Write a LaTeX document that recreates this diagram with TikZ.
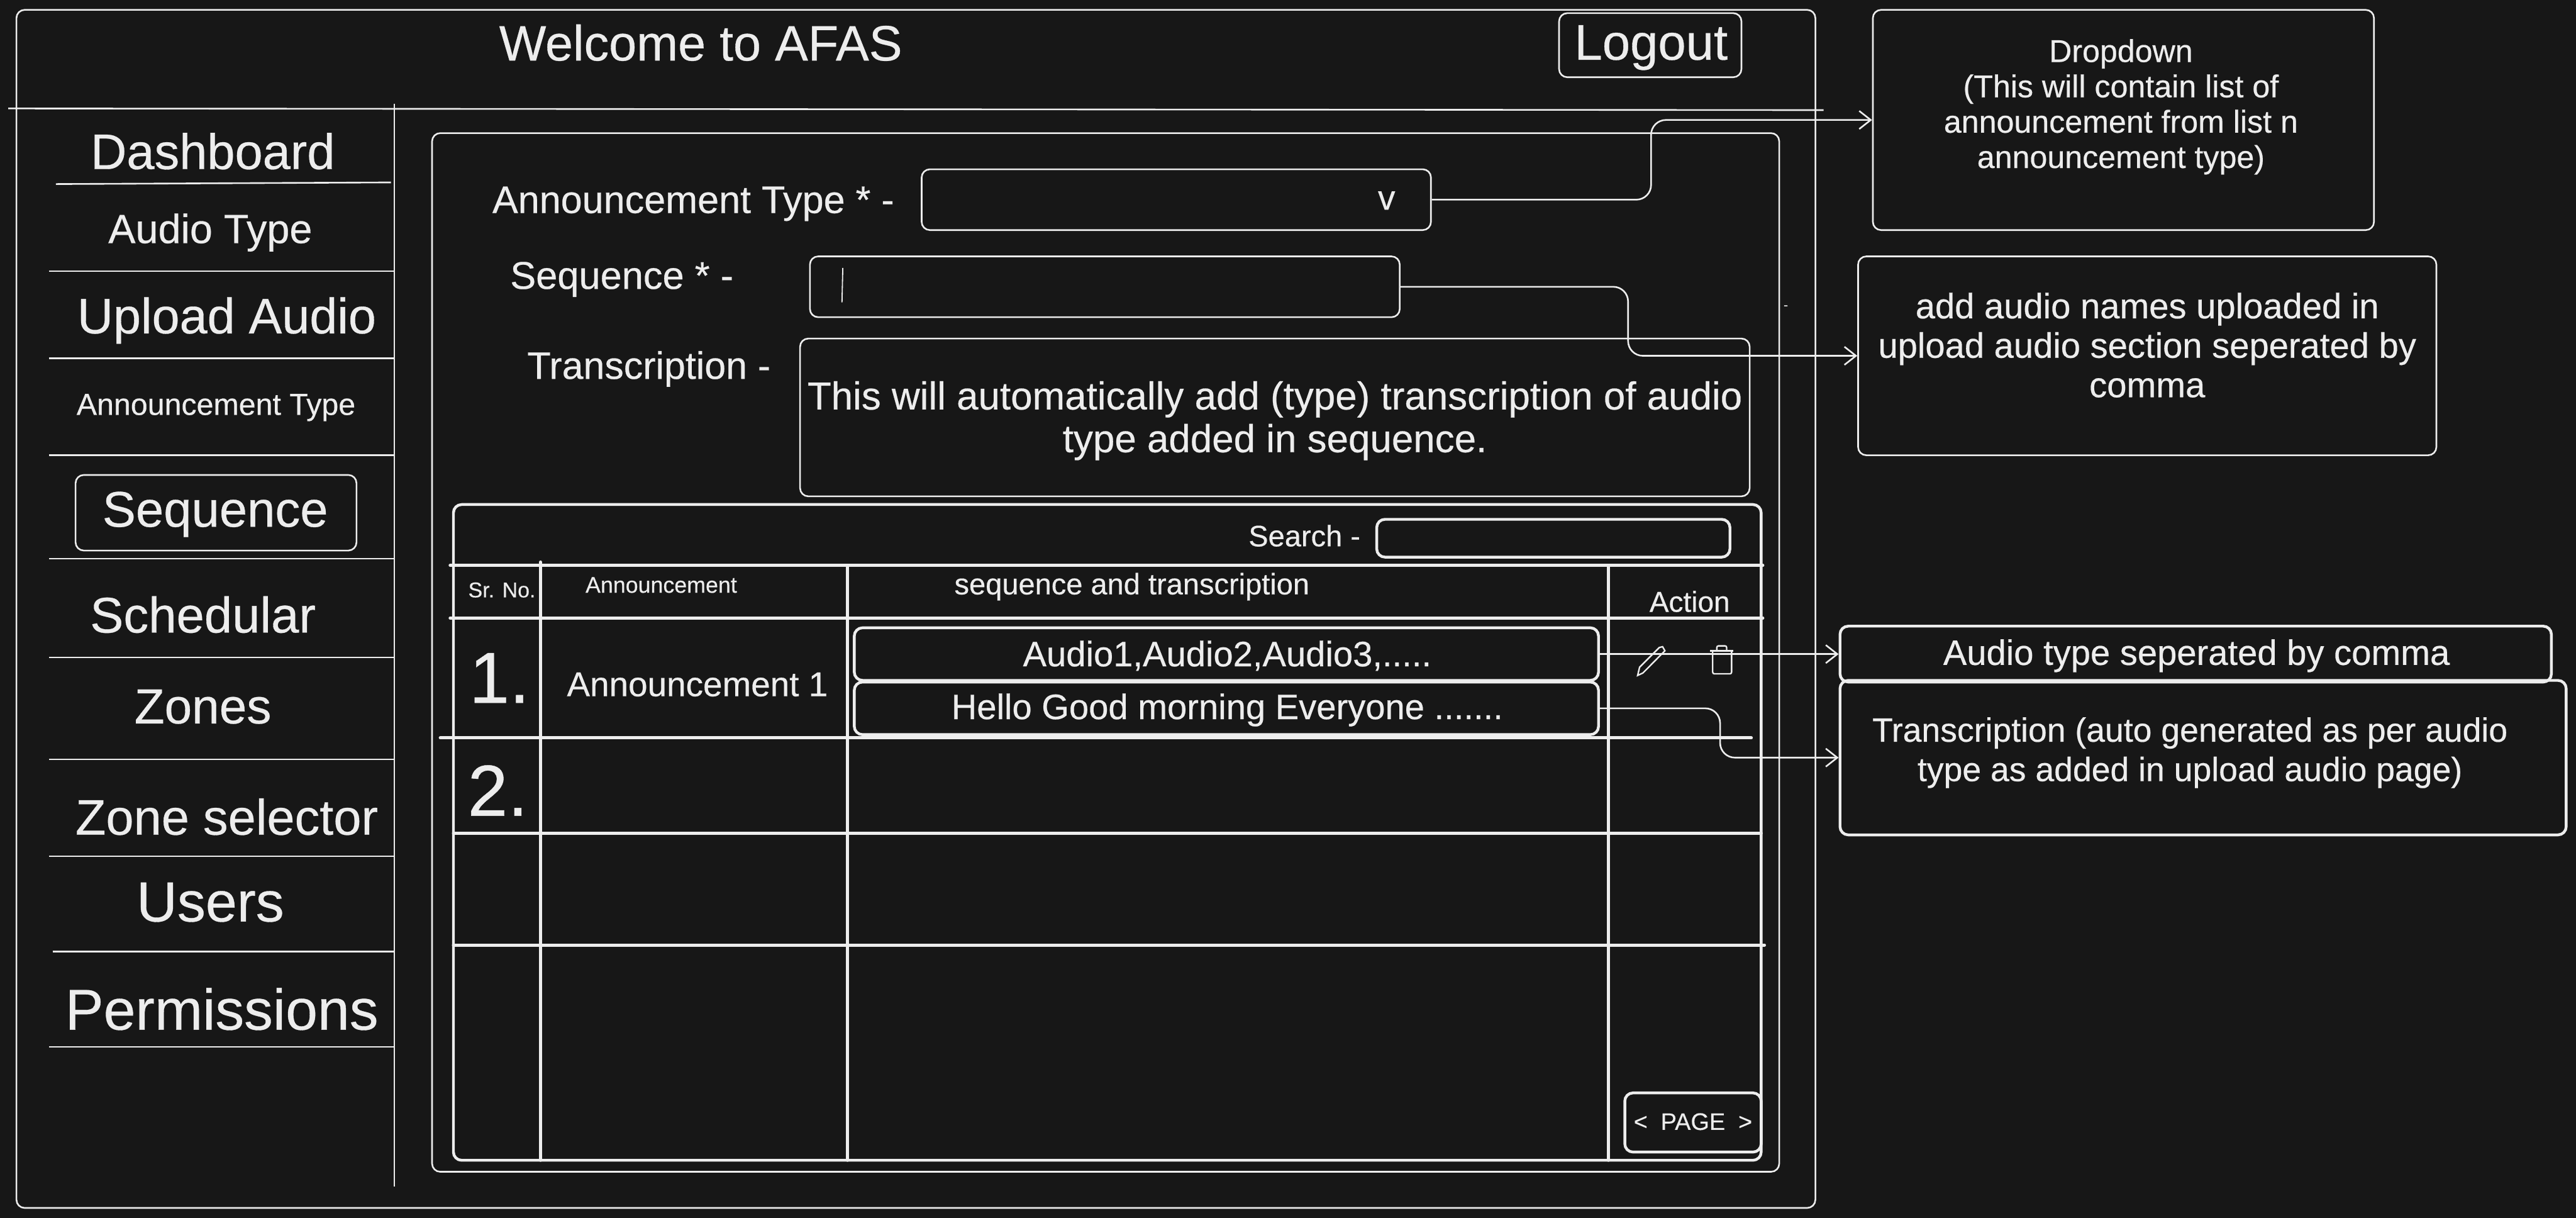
\documentclass[tikz,border=0pt]{standalone}
\usepackage{fontspec}
\usepackage{xcolor}
\setmainfont{Liberation Sans}[RawFeature={embolden=0.4}]
\usetikzlibrary{arrows.meta, positioning, calc}
\definecolor{bgdark}{HTML}{171717}
\definecolor{ink}{HTML}{EDEDED}

\begin{document}
\begin{tikzpicture}[x=1pt, y=-1pt, >={Straight Barb[length=7pt,width=11pt]},
    txt/.style n args={2}{text=ink, inner sep=0pt, align=center, font=\fontsize{#1}{#2}\selectfont},
    box/.style={draw=ink, line width=1pt, rounded corners=5pt, inner sep=0pt},
    tbox/.style={draw=ink, line width=1.7pt, rounded corners=5pt, inner sep=0pt},
    rule/.style={draw=ink, line width=1pt},
    grid/.style={draw=ink, line width=1.9pt, line cap=round},
    link/.style={draw=ink, line width=1pt, rounded corners=9pt, ->}]
  \fill[bgdark] (0,0) rectangle (1568,741);
  \useasboundingbox (0,0) rectangle (1568,741);
  % page frame
  \node[box, minimum width=1095pt, minimum height=729pt] (frame) at (557.5,370.5) {};
  \draw[rule] (5,66) -- (1110,67);
  \draw[rule] (240,63) -- (240,722);
  \node[txt={30.3}{36}] (welcome) at (426.5,26) {Welcome to AFAS};
  \node[box, minimum width=111pt, minimum height=39pt] (logout) at (1004.5,27.5) {};
  \node[txt={30.5}{36}] (logouttext) at (1005,29) {Logout};
  % sidebar
  \node[txt={30.4}{36}] (dashboard) at (129.5,92) {Dashboard};
  \node[txt={24.8}{28}] (audiotype) at (128,141.5) {Audio Type};
  \node[txt={30.3}{36}] (upload) at (138,195) {Upload Audio};
  \node[txt={18.5}{22}] (anntype) at (131.5,248) {Announcement Type};
  \node[box, minimum width=171pt, minimum height=46pt] (sequence) at (131.5,312) {};
  \node[txt={30.5}{36}] (seqlabel) at (131,313) {Sequence};
  \node[txt={30.5}{36}] (schedular) at (123.5,374) {Schedular};
  \node[txt={30}{36}] (zones) at (123.5,430) {Zones};
  \node[txt={30.4}{36}] (zonesel) at (138,497) {Zone selector};
  \node[txt={34.4}{40}] (users) at (128,549) {Users};
  \node[txt={35}{40}] (permissions) at (135,614) {Permissions};
  \draw[rule] (34,112) -- (238,111);
  \draw[rule] (30,165) -- (240,165);
  \draw[rule] (30,218) -- (240,218);
  \draw[rule] (30,277) -- (240,277);
  \draw[rule] (30,340) -- (240,340);
  \draw[rule] (30,400) -- (240,400);
  \draw[rule] (30,462) -- (240,462);
  \draw[rule] (30,521) -- (240,521);
  \draw[rule] (32,579) -- (240,579);
  \draw[rule] (30,637) -- (240,637);
  % form
  \node[box, minimum width=820pt, minimum height=632pt] (panel) at (673,397) {};
  \node[txt={23.4}{28}] (typelabel) at (422,124) {Announcement Type * -};
  \node[txt={23.5}{28}] (seqfieldlabel) at (378.5,170) {Sequence * -};
  \node[txt={23.3}{28}] (translabel) at (395,224.5) {Transcription -};
  \node[box, minimum width=310pt, minimum height=37pt] (typefield) at (716,121.5) {};
  \node[txt={21}{22}] (chevron) at (844,122) {v};
  \node[box, minimum width=359pt, minimum height=37pt] (seqfield) at (672.5,174.5) {};
  \draw[rule, line width=0.7pt] (513,163) -- (512.5,184);
  \node[box, minimum width=578pt, minimum height=96pt] (transfield) at (776,254) {};
  \node[txt={23.7}{26}] (transtext) at (776,256)
        {This will automatically add (type) transcription of audio\\type added in sequence.};
  \node[txt={8}{10}] (tick) at (1087,187) {-};
  % table
  \node[tbox, minimum width=796pt, minimum height=399pt] (table) at (674,506.5) {};
  \node[txt={18}{22}] (search) at (794,326) {Search -};
  \node[tbox, minimum width=215pt, minimum height=23pt] (searchfield) at (945.5,327.5) {};
  \draw[grid] (274,344) -- (1073,344);
  \draw[grid] (274,376) -- (1073,376);
  \draw[grid] (268,449) -- (1066,449);
  \draw[grid] (276,507) -- (1072,507);
  \draw[grid] (276,575) -- (1074,575);
  \draw[grid] (329,342) -- (329,706);
  \draw[grid] (516,344) -- (516,706);
  \draw[grid] (979,344) -- (979,706);
  \node[txt={13}{16}] (srno) at (305.5,359) {Sr. No.};
  \node[txt={13.7}{16}] (annhead) at (402.5,356) {Announcement};
  \node[txt={18}{22}] (seqhead) at (689,357) {sequence and transcription};
  \node[txt={17.6}{22}] (action) at (1028.5,366) {Action};
  \node[txt={44}{50}] (one) at (304,412.5) {1.};
  \node[txt={44}{50}] (two) at (303,481) {2.};
  \node[txt={21}{26}] (ann) at (424.5,416.5) {Announcement 1};
  \node[tbox, minimum width=453pt, minimum height=32pt] (audiorow) at (746.5,398) {};
  \node[txt={21.5}{26}] (audiotext) at (747,399) {Audio1,Audio2,Audio3,.....};
  \node[tbox, minimum width=453pt, minimum height=32pt] (textrow) at (746.5,431) {};
  \node[txt={21.5}{26}] (hellotext) at (747,432) {Hello Good morning Everyone .......};
  \draw[rule, line width=0.9pt] (996.8,411) -- (1000,409.5) -- (1013.4,396) -- (1012,393.5) -- (1010,394) -- (998,406) -- cycle;
  \draw[rule, line width=0.9pt, rounded corners=1pt] (1042.5,396) -- (1042.5,410) -- (1054,410) -- (1054,396);
  \draw[rule, line width=0.9pt] (1041,396) -- (1055,396);
  \draw[rule, line width=0.9pt, rounded corners=1pt] (1045,396) -- (1045,393) -- (1051,393) -- (1051,396);
  \node[tbox, minimum width=83pt, minimum height=36pt] (pagebox) at (1030.5,683) {};
  \node[txt={14.5}{18}] (page) at (1030.5,682.5) {<\hspace{8pt}PAGE\hspace{8pt}>};
  % notes
  \node[box, minimum width=305pt, minimum height=134pt] (typenote) at (1292.5,73) {};
  \node[txt={19.2}{21.5}] (typetext) at (1291,65)
        {Dropdown\\(This will contain list of\\announcement from list n\\announcement type)};
  \node[box, minimum width=352pt, minimum height=121pt] (seqnote) at (1307,216.5) {};
  \node[txt={21.5}{24}] (seqtext) at (1307,210)
        {add audio names uploaded in\\upload audio section seperated by\\comma};
  \node[tbox, minimum width=433pt, minimum height=34pt] (audionote) at (1336.5,398) {};
  \node[txt={21.5}{26}] (audionotetext) at (1337,399) {Audio type seperated by comma};
  \node[tbox, minimum width=442pt, minimum height=94pt] (textnote) at (1341,461) {};
  \node[txt={20.5}{24}] (texttext) at (1333,458)
        {Transcription (auto generated as per audio\\type as added in upload audio page)};
  % connectors
  \coordinate (typebend) at (1005,121.5);
  \coordinate (seqbend) at (991,174.5);
  \coordinate (textbend) at (1047,431);
  \draw[link] (typefield.east) -- (typebend) -- (typebend |- typenote.west) -- (typenote.west);
  \draw[link] (seqfield.east) -- (seqbend) -- (seqbend |- seqnote.west) -- (seqnote.west);
  \draw[link] (audiorow.east) -- (audionote.west);
  \draw[link] (textrow.east) -- (textbend) -- (textbend |- textnote.west) -- (textnote.west);
\end{tikzpicture}
\end{document}
